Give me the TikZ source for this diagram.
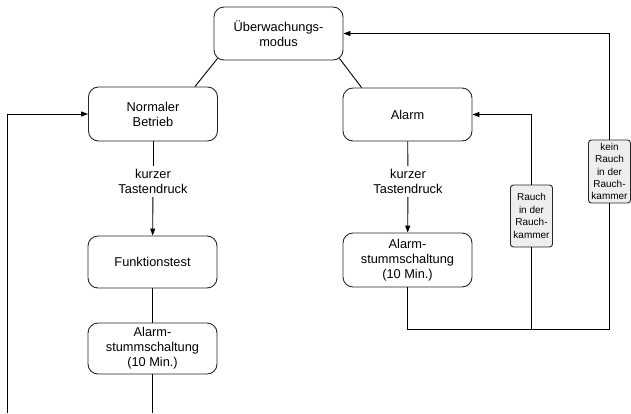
\documentclass[tikz,border=0pt]{standalone}
\usepackage{fontspec}
\setmainfont{Liberation Sans}
\usetikzlibrary{arrows.meta,calc}
\begin{document}
\begin{tikzpicture}[x=1pt,y=-1pt,
  line width=0.9pt,
  box/.style={draw=black!85, rounded corners=10pt, minimum width=129pt, align=center,
    font=\fontsize{12.8}{15}\selectfont, inner sep=0pt},
  small/.style={draw=black!85, fill=gray!13, rounded corners=3pt, minimum width=42pt, align=center,
    font=\fontsize{10}{12.4}\selectfont, inner sep=0pt},
  lbl/.style={align=center, font=\fontsize{12.8}{14.5}\selectfont, inner sep=3pt},
  arr/.style={-{Triangle[length=7pt,width=5pt]}}]
\useasboundingbox (0,0) rectangle (631,413);
\node[box, minimum height=53pt] (uw) at (278.5,33.5) {Überwachungs-\\modus};
\node[box, minimum height=54pt] (nb) at (153,114) {Normaler\\Betrieb};
\node[box, minimum height=53pt] (al) at (407.5,114.5) {Alarm};
\node[box, minimum height=52pt] (ft) at (152.5,262) {Funktionstest};
\node[box, minimum height=51pt] (as1) at (152.5,348.5) {Alarm-\\stummschaltung\\(10 Min.)};
\node[box, minimum height=54pt] (as2) at (407.5,260) {Alarm-\\stummschaltung\\(10 Min.)};
\node[small, minimum height=62pt] (rauch) at (531.5,216) {Rauch\\in der\\Rauch-\\kammer};
\node[small, minimum height=63pt] (kein) at (609.5,171.5) {kein\\Rauch\\in der\\Rauch-\\kammer};
\node[lbl] (k1) at (153,181.5) {kurzer\\Tastendruck};
\node[lbl] (k2) at (408,181.5) {kurzer\\Tastendruck};
\coordinate (bm) at (152.5,413);
\coordinate (bl) at (7,413);
\coordinate (jr) at (609.5,329);
% connectors
\draw ([xshift=4pt,yshift=2pt]uw.south west) -- ([xshift=-23pt]nb.north east);
\draw ([xshift=-4pt,yshift=2pt]uw.south east) -- ([xshift=19pt]al.north west);
\draw (nb) -- (k1);
\draw[arr] (k1) -- (ft);
\draw (ft) -- (as1);
\draw (as1) -- (bm);
\draw[arr] (bl) |- (nb);
\draw (al) -- (k2);
\draw[arr] (k2) -- (as2);
\draw (as2.south) |- (jr) -- (kein.south);
\draw (rauch.south) -- (rauch.south |- jr);
\draw[arr] (rauch.north) |- (al.east);
\draw[arr] (kein.north) |- (uw.east);
\end{tikzpicture}
\end{document}
